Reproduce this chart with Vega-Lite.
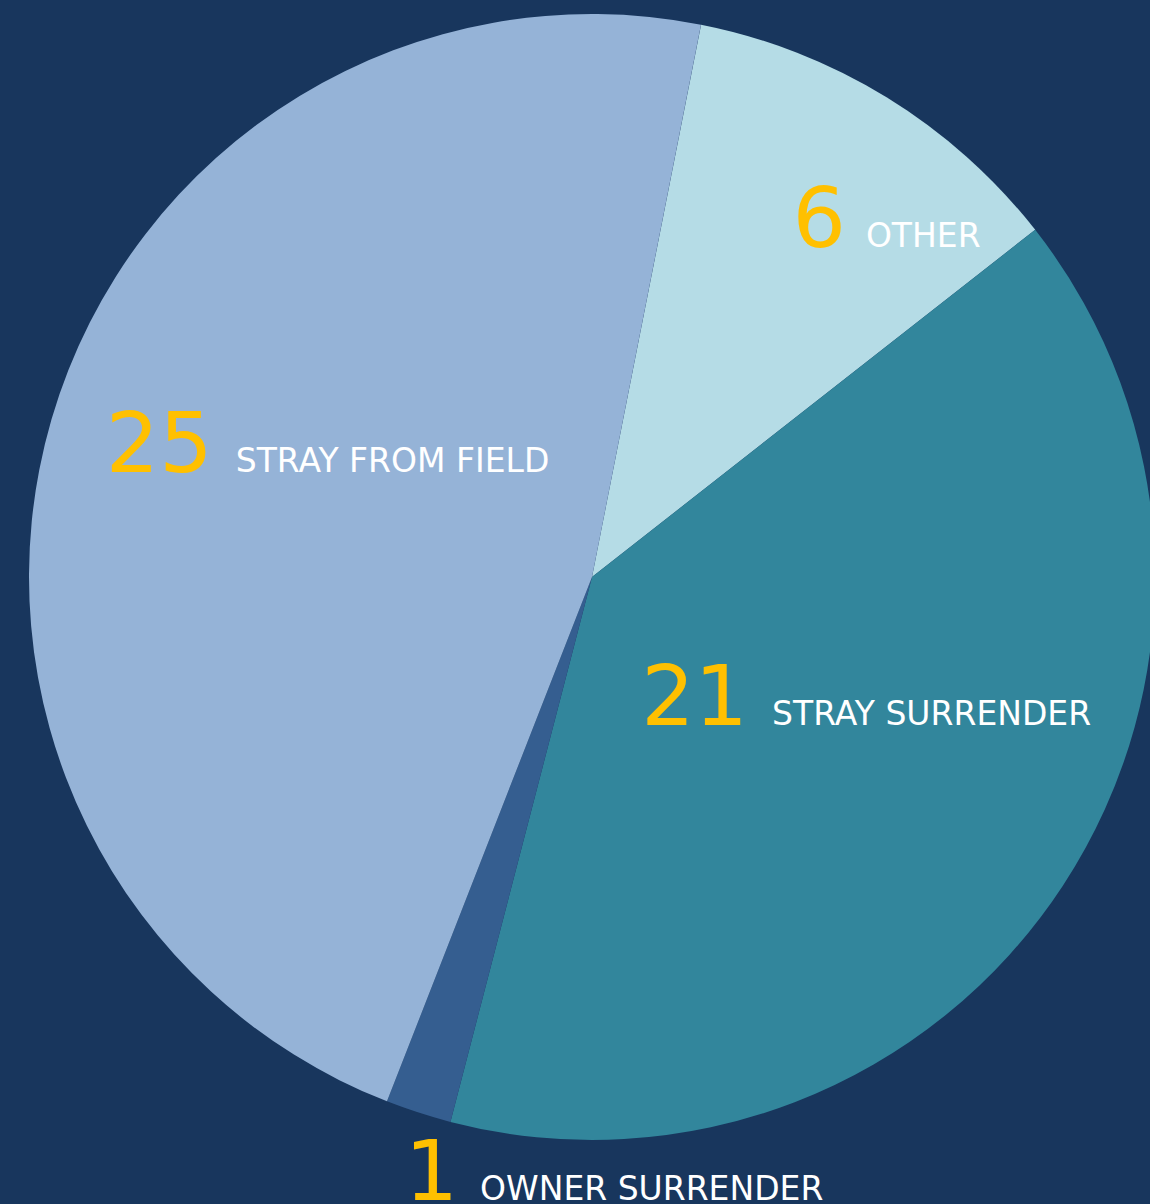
{
  "$schema": "https://vega.github.io/schema/vega-lite/v6.json",
  "width": 1116,
  "height": 1154,
  "autosize": {"type": "none"},
  "padding": {"left": 34, "top": 0, "right": 0, "bottom": 50},
  "background": "#18365d",
  "config": {"view": {"stroke": null}},
  "data": {
    "values": [
      {"category": "OTHER", "count": 6, "order": 1},
      {"category": "STRAY SURRENDER", "count": 21, "order": 2},
      {"category": "OWNER SURRENDER", "count": 1, "order": 3},
      {"category": "STRAY FROM FIELD", "count": 25, "order": 4}
    ]
  },
  "transform": [
    {"stack": "count", "groupby": [], "sort": [{"field": "order", "order": "ascending"}], "as": ["s0", "s1"]}
  ],
  "layer": [
    {
      "mark": {"type": "arc", "outerRadius": 563},
      "encoding": {
        "theta": {"field": "s0", "type": "quantitative", "scale": {"domain": [0, 53], "range": [0.195, 6.478]}},
        "theta2": {"field": "s1"},
        "color": {
          "field": "category",
          "type": "nominal",
          "scale": {
            "domain": ["OTHER", "STRAY SURRENDER", "OWNER SURRENDER", "STRAY FROM FIELD"],
            "range": ["#b5dce6", "#32869c", "#355e90", "#95b3d7"]
          },
          "legend": null
        }
      }
    },
    {
      "transform": [{"filter": "datum.category == 'OTHER'"}],
      "layer": [
        {"mark": {"type": "text", "radius": 340, "dx": 188, "dy": 4, "align": "right", "baseline": "alphabetic", "font": "DejaVu Sans", "fontSize": 84, "fill": "#ffc000"},
         "encoding": {"theta": {"field": "s0", "type": "quantitative"}, "text": {"field": "count"}}},
        {"mark": {"type": "text", "radius": 340, "dx": 208, "dy": 4, "align": "left", "baseline": "alphabetic", "font": "DejaVu Sans", "fontSize": 33, "fill": "#ffffff"},
         "encoding": {"theta": {"field": "s0", "type": "quantitative"}, "text": {"field": "category"}}}
      ]
    },
    {
      "transform": [{"filter": "datum.category == 'STRAY SURRENDER'"}],
      "layer": [
        {"mark": {"type": "text", "radius": 230, "dx": -25, "dy": 290, "align": "right", "baseline": "alphabetic", "font": "DejaVu Sans", "fontSize": 84, "fill": "#ffc000"},
         "encoding": {"theta": {"field": "s0", "type": "quantitative"}, "text": {"field": "count"}}},
        {"mark": {"type": "text", "radius": 230, "dx": -1, "dy": 290, "align": "left", "baseline": "alphabetic", "font": "DejaVu Sans", "fontSize": 33, "fill": "#ffffff"},
         "encoding": {"theta": {"field": "s0", "type": "quantitative"}, "text": {"field": "category"}}}
      ]
    },
    {
      "transform": [{"filter": "datum.category == 'OWNER SURRENDER'"}],
      "layer": [
        {"mark": {"type": "text", "radius": 620, "dx": 22, "dy": 23, "align": "right", "baseline": "alphabetic", "font": "DejaVu Sans", "fontSize": 84, "fill": "#ffc000"},
         "encoding": {"theta": {"field": "s0", "type": "quantitative"}, "text": {"field": "count"}}},
        {"mark": {"type": "text", "radius": 620, "dx": 44, "dy": 23, "align": "left", "baseline": "alphabetic", "font": "DejaVu Sans", "fontSize": 33, "fill": "#ffffff"},
         "encoding": {"theta": {"field": "s0", "type": "quantitative"}, "text": {"field": "category"}}}
      ]
    },
    {
      "transform": [{"filter": "datum.category == 'STRAY FROM FIELD'"}],
      "layer": [
        {"mark": {"type": "text", "radius": 300, "dx": -270, "dy": -384, "align": "right", "baseline": "alphabetic", "font": "DejaVu Sans", "fontSize": 84, "fill": "#ffc000"},
         "encoding": {"theta": {"field": "s0", "type": "quantitative"}, "text": {"field": "count"}}},
        {"mark": {"type": "text", "radius": 300, "dx": -247, "dy": -384, "align": "left", "baseline": "alphabetic", "font": "DejaVu Sans", "fontSize": 33, "fill": "#ffffff"},
         "encoding": {"theta": {"field": "s0", "type": "quantitative"}, "text": {"field": "category"}}}
      ]
    }
  ]
}
